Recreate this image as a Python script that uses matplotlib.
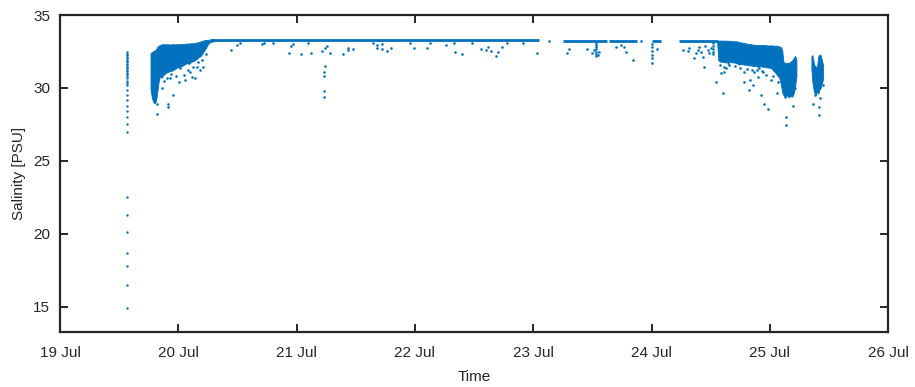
"""Salinity vs time scatter (MATLAB-style figure), redrawn with matplotlib."""
import matplotlib
matplotlib.use("Agg")
import matplotlib.pyplot as plt

BLUE = "#0072BD"
AX_COL = "#262626"

# x values are day of July (19.5 = 19 Jul 12:00), y values are salinity [PSU]

# first CTD cast: a single vertical string of samples
cast_t = 19.563
cast_s = [32.45, 32.35, 32.25, 32.15, 32.05, 31.95, 31.85, 31.75, 31.65, 31.55,
          31.45, 31.35, 31.25, 31.15, 31.05, 30.95, 30.8, 30.65, 30.5, 30.35,
          30.2, 29.85, 29.5, 29.16, 28.75, 28.4, 27.98, 27.5, 27.0,
          22.5, 21.3, 20.1, 18.7, 17.8, 16.45, 14.9]

# dense clouds of samples: (time, upper edge, lower edge)
cloud_a_t = [19.765, 19.775, 19.785, 19.795, 19.805, 19.815, 19.825, 19.835,
             19.845, 19.86, 19.875, 19.89, 19.91, 19.93, 19.95, 19.97, 19.99,
             20.01, 20.03, 20.05, 20.07, 20.09, 20.11, 20.13, 20.15, 20.17,
             20.19, 20.21, 20.23, 20.25, 20.27, 20.30]
cloud_a_hi = [32.4, 32.45, 32.5, 32.55, 32.6, 32.7, 32.85, 32.9,
              32.95, 33.0, 33.0, 33.0, 33.0, 32.98, 33.0, 33.0, 33.0,
              33.0, 33.02, 33.02, 33.05, 33.05, 33.07, 33.07, 33.1, 33.15,
              33.2, 33.25, 33.3, 33.3, 33.32, 33.32]
cloud_a_lo = [29.9, 29.4, 29.1, 28.95, 29.0, 29.3, 29.9, 30.5,
              30.8, 30.7, 30.9, 31.0, 31.1, 31.15, 31.2, 31.3, 31.4,
              31.45, 31.5, 31.6, 31.7, 31.65, 31.8, 31.85, 31.95, 32.1,
              32.2, 32.45, 32.7, 33.0, 33.15, 33.2]

cloud_b_t = [24.555, 24.565, 24.58, 24.60, 24.62, 24.64, 24.66, 24.68, 24.70,
             24.72, 24.74, 24.76, 24.78, 24.80, 24.82, 24.84, 24.86, 24.88,
             24.90, 24.92, 24.94, 24.96, 24.98, 25.00, 25.02, 25.04, 25.06,
             25.08, 25.095, 25.105, 25.115, 25.13, 25.145, 25.16, 25.175,
             25.19, 25.205, 25.215, 25.225]
cloud_b_hi = [33.22, 33.25, 33.25, 33.25, 33.25, 33.24, 33.24, 33.22, 33.2,
              33.2, 33.15, 33.12, 33.1, 33.05, 33.02, 33.0, 32.97, 32.96,
              32.95, 32.95, 32.95, 32.94, 32.92, 32.92, 32.92, 32.9, 32.9,
              32.85, 32.8, 32.6, 31.8, 31.7, 31.72, 31.72, 31.8,
              31.9, 32.1, 32.2, 31.9]
cloud_b_lo = [33.1, 31.9, 31.8, 31.8, 31.75, 31.8, 31.8, 31.75, 31.75,
              31.7, 31.6, 31.65, 31.6, 31.6, 31.55, 31.55, 31.5, 31.5,
              31.45, 31.5, 31.45, 31.45, 31.4, 31.4, 31.3, 31.1, 30.9,
              30.7, 30.2, 29.7, 29.5, 29.4, 29.5, 29.35, 29.45,
              29.4, 29.7, 30.2, 30.8]

cloud_c_t = [25.352, 25.36, 25.368, 25.375, 25.39, 25.40, 25.41, 25.42, 25.43,
             25.44, 25.45]
cloud_c_hi = [32.2, 32.25, 31.9, 31.6, 31.4, 31.5, 32.2, 32.3, 32.25, 31.9, 31.6]
cloud_c_lo = [31.2, 30.4, 30.0, 29.7, 29.5, 29.8, 29.6, 29.9, 30.0, 30.3, 30.6]

# steady near-surface stretches: start, end, salinity
band_start = [20.27, 23.25, 23.64, 24.00, 24.23]
band_end = [23.05, 23.62, 23.88, 24.08, 24.56]
band_s = [33.27, 33.25, 33.25, 33.25, 33.25]

# isolated samples
pts_t = [
    19.903, 19.931, 20.002, 19.861, 19.959, 19.912, 19.912, 19.819, 20.058, 20.044,
    20.143, 20.185, 20.157, 20.211, 20.101, 20.115, 20.016, 19.804, 19.821,
    19.88, 19.94, 19.98, 20.08, 20.12, 20.17, 20.20, 20.23,
    20.445, 20.496, 20.933, 21.041, 21.125, 21.216, 21.244, 21.235, 21.235, 21.235,
    21.235, 21.278, 21.394, 21.436, 21.436, 21.478, 21.682, 21.682, 21.724, 21.766,
    21.794, 21.992, 22.105, 22.260, 22.336, 22.401, 22.556, 22.618, 22.641, 22.683,
    22.706, 22.740, 22.599, 23.031, 23.13,
    20.710, 20.727, 20.956, 20.973, 21.244, 21.261, 20.524, 20.80, 21.10, 21.642,
    21.72, 21.96, 22.13, 22.33, 22.48, 22.78, 22.91,
    23.282, 23.304, 23.454, 23.496, 23.530, 23.530, 23.530, 23.530, 23.530, 23.530,
    23.530, 23.547, 23.555, 23.513, 23.700, 23.742, 23.765, 23.784, 23.846, 23.915,
    24.004, 24.004, 24.004, 24.004, 24.004, 24.004, 24.047,
    24.264, 24.306, 24.357, 24.377, 24.391, 24.419, 24.433, 24.447, 24.475, 24.489,
    24.504, 24.521, 24.521, 24.521, 24.521, 24.521, 24.318, 24.402, 24.45,
    24.546, 24.603, 24.589, 24.616, 24.631, 24.659, 24.687, 24.645, 24.786, 24.786,
    24.820, 24.836, 24.857, 24.870, 24.898, 24.927, 24.947, 24.984, 24.910, 24.944,
    24.970, 24.995, 25.012, 25.037, 25.063, 25.130, 25.195, 25.133, 25.139, 25.215,
    24.58, 24.61, 24.71, 24.75, 24.81, 24.85, 24.89, 24.93, 25.03, 25.07,
    25.412, 25.412, 25.365, 25.449, 25.384, 25.427,
]
pts_s = [
    30.70, 30.70, 30.42, 29.97, 29.50, 28.88, 28.70, 28.19, 30.54, 30.88,
    30.66, 31.23, 31.46, 31.46, 31.11, 30.77, 31.34, 29.09, 28.88,
    30.45, 30.95, 30.85, 31.25, 31.45, 31.75, 31.95, 32.3,
    32.61, 32.95, 32.42, 32.33, 32.42, 32.56, 31.50, 31.11, 30.83, 29.78,
    29.39, 32.42, 32.33, 32.61, 32.72, 32.66, 32.95, 32.72, 32.66, 32.56,
    32.72, 32.72, 32.72, 32.95, 32.49, 32.31, 32.66, 32.79, 32.56, 32.19,
    32.49, 32.79, 32.61, 32.43, 33.25,
    33.00, 33.09, 32.88, 33.02, 32.72, 32.88, 33.09, 33.08, 33.07, 33.06,
    33.05, 33.08, 33.06, 33.07, 33.08, 33.06, 33.07,
    32.38, 32.66, 32.68, 32.38, 33.10, 32.95, 32.80, 32.65, 32.50, 32.35,
    32.20, 32.26, 32.47, 32.60, 32.79, 32.95, 32.83, 32.49, 31.92, 33.25,
    33.02, 32.83, 32.56, 32.26, 32.03, 31.69, 32.66,
    32.61, 32.56, 32.08, 32.38, 32.61, 32.49, 32.14, 31.45, 32.61, 32.38,
    32.72, 33.10, 32.90, 32.70, 32.50, 32.30, 32.74, 32.81, 32.85,
    30.42, 29.62, 31.00, 31.07, 31.34, 31.57, 31.92, 31.70, 31.11, 30.42,
    29.85, 30.54, 30.19, 31.11, 30.77, 29.50, 28.93, 28.54, 31.37, 31.09,
    30.88, 31.51, 30.54, 31.23, 29.62, 29.39, 28.75, 28.01, 27.48, 29.99,
    31.55, 31.45, 31.5, 31.35, 31.3, 31.2, 31.25, 31.15, 30.85, 30.4,
    28.70, 28.12, 28.93, 30.19, 29.50, 29.30,
]

day_ticks = [19, 20, 21, 22, 23, 24, 25, 26]
day_labels = ["19 Jul", "20 Jul", "21 Jul", "22 Jul", "23 Jul", "24 Jul", "25 Jul", "26 Jul"]
sal_ticks = [15, 20, 25, 30, 35]

plt.rcParams["font.family"] = ["Liberation Sans", "DejaVu Sans"]

fig = plt.figure(figsize=(9.15, 3.87), dpi=100)
ax = fig.add_axes([0.0656, 0.142, 0.905, 0.819])

for t, hi, lo in ((cloud_a_t, cloud_a_hi, cloud_a_lo),
                  (cloud_b_t, cloud_b_hi, cloud_b_lo),
                  (cloud_c_t, cloud_c_hi, cloud_c_lo)):
    ax.fill_between(t, lo, hi, color=BLUE, linewidth=0.6, edgecolor=BLUE)

ax.hlines(band_s, band_start, band_end, color=BLUE, linewidth=2.0)
ax.scatter([cast_t] * len(cast_s), cast_s, s=3, color=BLUE, linewidths=0)
ax.scatter(pts_t, pts_s, s=3.5, color=BLUE, linewidths=0)

ax.set_xlim(19, 26)
ax.set_ylim(13.25, 35)
ax.set_xticks(day_ticks)
ax.set_xticklabels(day_labels)
ax.set_yticks(sal_ticks)
ax.set_xlabel("Time", fontsize=11, color=AX_COL, labelpad=7)
ax.set_ylabel("Salinity [PSU]", fontsize=11, color=AX_COL, labelpad=5)
ax.tick_params(direction="in", length=5.5, width=1.4, colors=AX_COL,
               labelsize=11, top=True, right=True, pad=7)
ax.tick_params(axis="x", pad=10)
for sp in ax.spines.values():
    sp.set_linewidth(1.6)
    sp.set_color(AX_COL)

fig.savefig("out.png", dpi=100)
